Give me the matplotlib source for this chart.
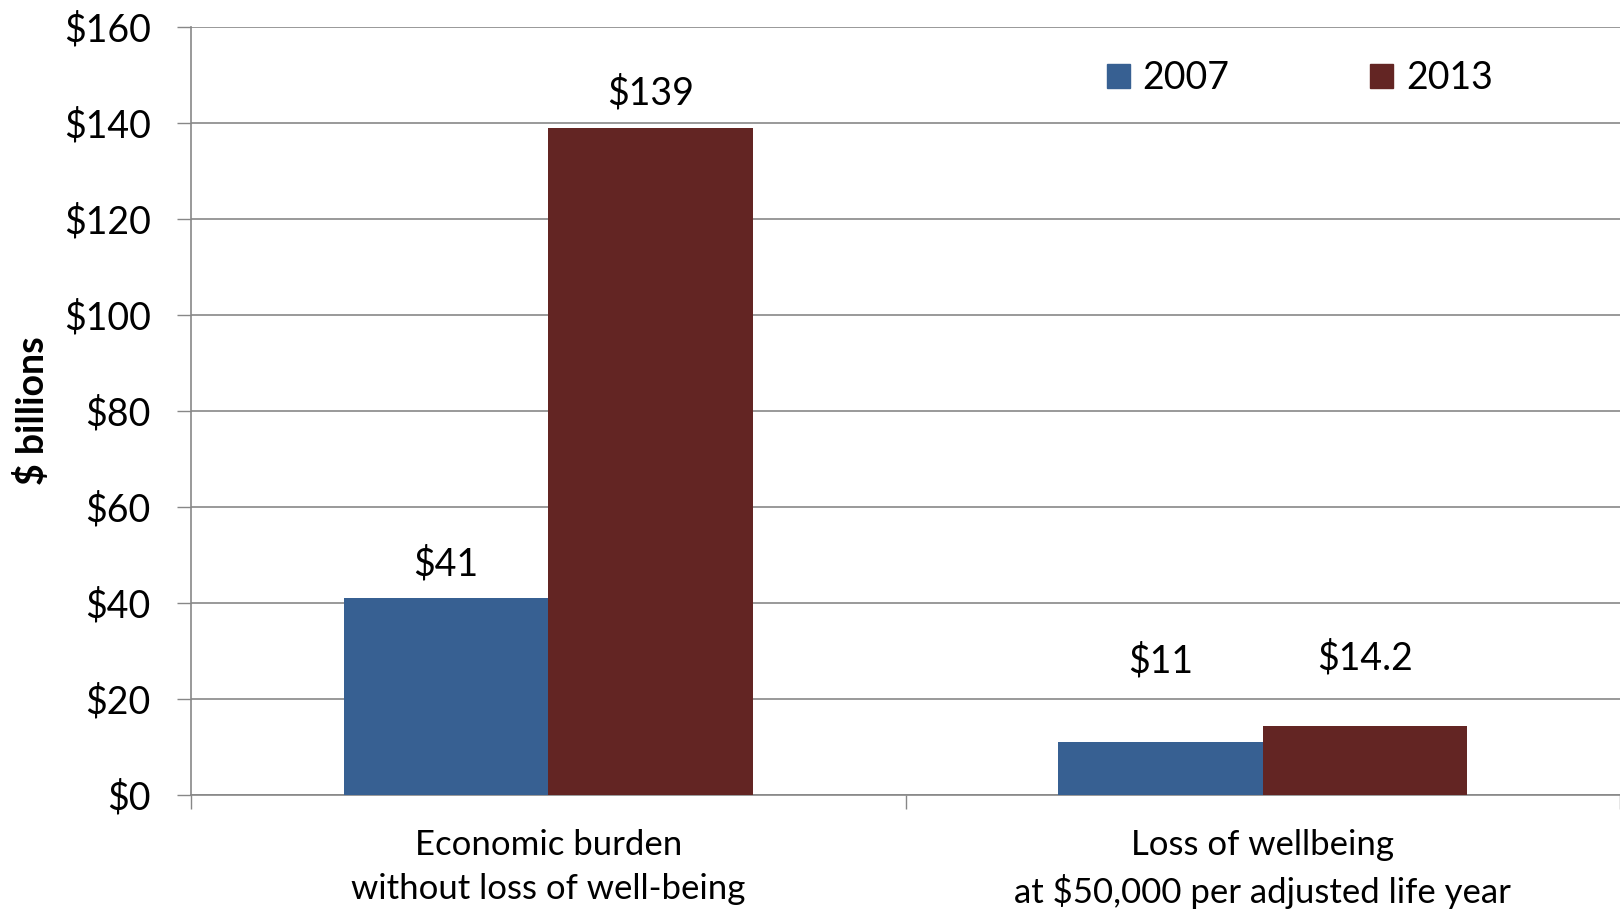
import matplotlib
matplotlib.use("Agg")
import matplotlib.pyplot as plt
from matplotlib.patches import Patch
import numpy as np

plt.rcParams['font.family'] = ['Lato', 'DejaVu Sans']

categories = ["Economic burden\nwithout loss of well-being",
              "Loss of wellbeing\nat $50,000 per adjusted life year"]
series_names = ["2007", "2013"]
values_2007 = [41, 11]
values_2013 = [139, 14.2]
labels_2007 = ["$41", "$11"]
labels_2013 = ["$139", "$14.2"]
yticks = [0, 20, 40, 60, 80, 100, 120, 140, 160]

colors = ["#376092", "#632523"]
grid_color = "#878787"

fig = plt.figure(figsize=(16.2, 9.1), dpi=100)
ax = fig.add_axes([191 / 1620, 1 - 794.5 / 910, 1 - 191 / 1620, (794.5 - 26.9) / 910])

x = np.arange(len(categories))
w = 0.286
b1 = ax.bar(x - w / 2, values_2007, w, color=colors[0], zorder=3)
b2 = ax.bar(x + w / 2, values_2013, w, color=colors[1], zorder=3)

# data labels (offsets in points above the bar top)
offs_2007 = [24, 58]
offs_2013 = [25, 49]
for rects, labs, offs in [(b1, labels_2007, offs_2007), (b2, labels_2013, offs_2013)]:
    for r, lab, o in zip(rects, labs, offs):
        ax.annotate(lab, (r.get_x() + r.get_width() / 2, r.get_height()),
                    xytext=(0, o), textcoords="offset points",
                    ha="center", va="center", fontsize=27, color="black")

ax.set_xlim(-0.5, 1.5)
ax.set_ylim(0, 160)
ax.set_yticks(yticks)
ax.set_yticklabels([f"${v}" for v in yticks], fontsize=27)
ax.set_xticks(x)
ax.set_xticklabels(categories, fontsize=25, linespacing=1.45)
ax.set_xticks([-0.5, 0.5, 1.5], minor=True)
ax.tick_params(axis="x", which="major", length=0, pad=25)
ax.tick_params(axis="x", which="minor", length=10, width=1, color=grid_color)
ax.tick_params(axis="y", length=10, width=1, color=grid_color, pad=19)

ax.yaxis.grid(True, color=grid_color, linewidth=1.2, zorder=0)
ax.set_axisbelow(True)
for s in ["top", "right"]:
    ax.spines[s].set_visible(False)
for s in ["left", "bottom"]:
    ax.spines[s].set_color(grid_color)
    ax.spines[s].set_linewidth(1.2)

ax.set_ylabel("$ billions", fontsize=27, fontweight="bold")
ax.yaxis.set_label_coords(-(191 - 50) / (1620 - 191), 0.5)

handles = [Patch(color=c, label=n) for c, n in zip(colors, series_names)]
leg = ax.legend(handles=handles, ncol=2, frameon=False, fontsize=27,
                handlelength=0.6, handleheight=0.6, handletextpad=0.35,
                columnspacing=3.75, loc="center left",
                bbox_to_anchor=(1107 / 1620, 1 - 78 / 910),
                bbox_transform=fig.transFigure, borderaxespad=0, borderpad=0)

fig.savefig("out.png", dpi=100)
